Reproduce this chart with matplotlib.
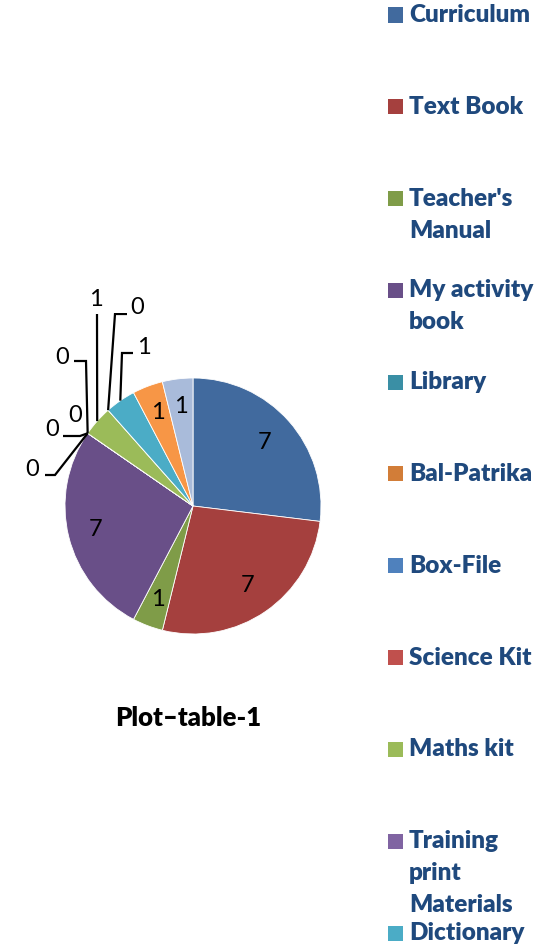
import matplotlib
matplotlib.use("Agg")
import matplotlib.pyplot as plt
import numpy as np
from matplotlib.patches import Rectangle

# ---------------- data ----------------
categories = ["Curriculum", "Text Book", "Teacher's Manual", "My activity book",
              "Library", "Bal-Patrika", "Box-File", "Science Kit", "Maths kit",
              "Training print Materials", "Dictionary", "Item 12", "Item 13"]
values = [7, 7, 1, 7, 0, 0, 0, 0, 1, 0, 1, 1, 1]
legend_labels = ["Curriculum", "Text Book", "Teacher's\nManual", "My activity\nbook",
                 "Library", "Bal-Patrika", "Box-File", "Science Kit", "Maths kit",
                 "Training\nprint\nMaterials", "Dictionary"]
title = "Plot\u2013table-1"

# ---------------- style ----------------
colors = ["#416A9E", "#A5403E", "#7F9C48", "#694F88", "#3A8FA5", "#D27D38",
          "#4F81BD", "#C0504D", "#9BBB59", "#8064A2", "#4BACC6", "#F79646", "#A9BBDA"]
plt.rcParams['font.family'] = ['Lato', 'DejaVu Sans']

W, H = 545, 944
fig = plt.figure(figsize=(W / 100, H / 100), dpi=100)

R_PX = 128.0
CX, CY = 193.0, 506.0  # pie centre in pixels (y from top)
half = 193.0
ax = fig.add_axes([(CX - half) / W, (H - CY - half) / H, 2 * half / W, 2 * half / H])
lim = half / R_PX

wedges, _ = ax.pie(values, colors=colors, startangle=90, counterclock=False,
                   radius=1.0, wedgeprops=dict(edgecolor='white', linewidth=0.6),
                   frame=True)
ax.set_xlim(-lim, lim)
ax.set_ylim(-lim, lim)
ax.set_aspect('equal')
ax.axis('off')

label_fs = 17

def px(x, y):
    return ((x - CX) / R_PX, (CY - y) / R_PX)

# inside labels for large-enough wedges
inside = {0: 0.75, 1: 0.75, 2: 0.78, 3: 0.78, 11: 0.78, 12: 0.78}
for i, w in enumerate(wedges):
    mid = np.deg2rad((w.theta1 + w.theta2) / 2)
    if i in inside:
        r = inside[i]
        ax.text(r * np.cos(mid), r * np.sin(mid), str(values[i]), ha='center',
                va='center', fontsize=label_fs, color='black')

# outside labels with leader lines: (index, text pos px, elbow points px)
outside = [
    (4, (32, 470), [(45, 475), (55, 475)]),
    (5, (52, 430), [(63, 436), (80, 436)]),
    (6, (75, 415), []),
    (7, (62, 357), [(74, 361), (86, 361)]),
    (8, (96, 300), [(97, 314)]),
    (9, (137, 307), [(127, 314), (115, 314)]),
    (10, (144, 348), [(133, 353), (122, 353)]),
]
for i, tpos, pts in outside:
    w = wedges[i]
    mid = np.deg2rad((w.theta1 + w.theta2) / 2)
    tip = (np.cos(mid), np.sin(mid))
    tx, ty = px(*tpos)
    ax.text(tx, ty, str(values[i]), ha='center', va='center', fontsize=label_fs,
            color='black')
    if pts:
        xs = [px(*p)[0] for p in pts] + [tip[0]]
        ys = [px(*p)[1] for p in pts] + [tip[1]]
        ax.plot(xs, ys, color='black', linewidth=1.6, solid_capstyle='butt',
                solid_joinstyle='miter')

# title
fig.text(188 / W, 1 - 718 / H, title, ha='center', va='center', fontsize=18.5,
         fontweight='heavy', color='black')

# legend (manual)
leg_y0, leg_dy, line_dy = 15.0, 91.8, 32.0
sq = 15.0
for k, lab in enumerate(legend_labels):
    yc = leg_y0 + k * leg_dy
    fig.patches.append(Rectangle((388 / W, 1 - (yc + sq / 2) / H), sq / W, sq / H,
                                 transform=fig.transFigure, facecolor=colors[k],
                                 edgecolor='none'))
    for j, line in enumerate(lab.split("\n")):
        fig.text(409 / W, 1 - (yc + j * line_dy) / H, line, ha='left', va='center',
                 fontsize=17.5, fontweight='heavy', color='#1F497D')

fig.savefig("out.png", dpi=100)
